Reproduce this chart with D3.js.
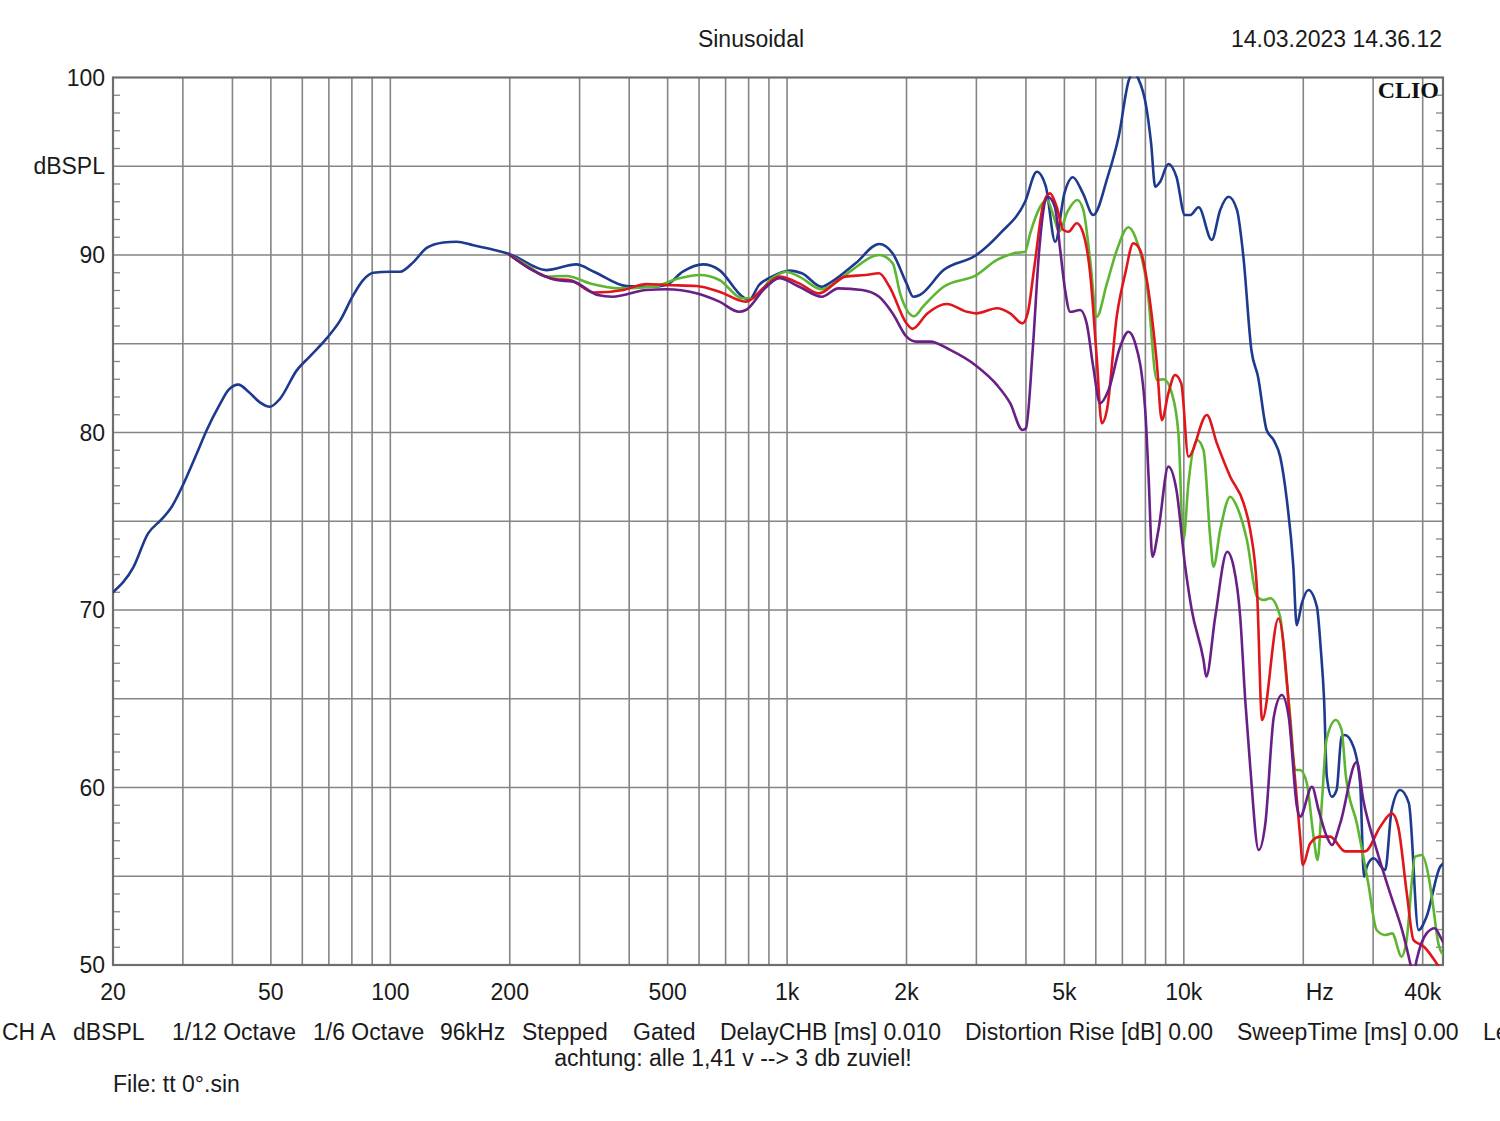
<!DOCTYPE html>
<html><head><meta charset="utf-8">
<script src="https://cdn.jsdelivr.net/npm/d3@7"></script>
<style>
html,body{margin:0;padding:0;background:#fff;}
text{font-family:"Liberation Sans",Arial,sans-serif;fill:#1a1a1a;}
</style></head>
<body>
<svg id="c" width="1500" height="1121"></svg>
<script>
// ---- axis / tick data ----
const xDomain = [20, 45000];
const yDomain = [50, 100];
const xGridFreqs = [30,40,50,60,70,80,90,100,200,300,400,500,600,700,800,900,1000,2000,3000,4000,5000,6000,7000,8000,9000,10000,20000,30000,40000];
const xTickLabels = [[20,"20"],[50,"50"],[100,"100"],[200,"200"],[500,"500"],[1000,"1k"],[2000,"2k"],[5000,"5k"],[10000,"10k"],[22000,"Hz"],[40000,"40k"]];
const yGridLevels = [55,60,65,70,75,80,85,90,95];
const yTickLabels = [[100,"100"],[95,"dBSPL"],[90,"90"],[80,"80"],[70,"70"],[60,"60"],[50,"50"]];

// ---- series data (Hz, dBSPL) ----
const blueFreq = [20,22.5,24.5,26.5,28.1,30.1,32.5,34.4,37.2,39.1,41.4,43.9,46.9,49.7,52.7,58.1,62.8,69.1,74.7,80.7,85.5,90.6,99.8,105.8,114.3,123.5,136.1,147,161.9,181.9,200,
  247,294,326,394,459,496,546,614,675,772,802,850,916,1018,1090,1223,1297,1488,1706,1846,2000,2080,2160,2480,3000,3444,3980,4260,4490,4740,5000,5250,5570,5910,6430,6850,7270,7480,7670,8040,8270,8470,8716,9140,9580,10060,10370,10900,11760,12350,12970,13610,14130,14800,15380,16170,16830,17490,18180,18880,19250,19830,20600,21640,22150,22570,22930,23600,24270,24980,25460,26760,27820,28460,28920,30080,32170,33400,35100,36920,39040,40900,44280,45000];
const blueDb = [71.0,72.4,74.3,75.1,75.8,77.1,78.8,80.1,81.6,82.4,82.7,82.3,81.7,81.45,81.9,83.5,84.3,85.3,86.3,87.75,88.6,89.0,89.06,89.06,89.6,90.4,90.7,90.75,90.55,90.3,90.05,
  89.15,89.47,89.06,88.25,88.21,88.31,89.06,89.47,89.15,87.65,87.46,88.31,88.78,89.12,88.97,88.21,88.5,89.53,90.62,90.09,88.4,87.65,87.75,89.15,90.0,91.22,93.0,94.69,93.85,90.75,93.47,94.38,93.47,92.25,94.41,96.66,99.86,100.3,99.95,98.36,96.29,93.85,94.13,95.13,94.41,92.25,92.25,92.69,90.85,92.54,93.28,92.54,89.9,84.65,83.14,80.14,79.58,78.64,76.2,72.44,69.15,70.38,71.13,70.19,67.75,64.93,60.61,59.48,59.86,62.86,62.96,62.3,60.24,54.98,55.54,56.01,55.35,58.73,59.86,59.11,51.97,52.72,55.54,55.7];

const greenFreq = [200,224,247,278,319,380,459,535,602,675,772,817,916,995,1073,1223,1318,1457,1706,1846,1927,2090,2200,2480,3000,3380,3710,3980,4100,4344,4520,4700,4850,5090,5390,5580,5806,6030,6400,6780,7250,7540,8100,8550,8900,9330,9690,9980,10270,10790,11210,11650,11880,12350,13090,13610,14420,15290,15890,16510,17490,18180,18540,19090,19640,20420,21230,21730,22300,22880,24160,24980,25620,27290,29160,30620,32150,33500,35400,36330,38300,39800,41400,42400,43800,44280,45000];
const greenDb = [90.0,89.34,88.78,88.82,88.4,88.12,88.21,88.69,88.87,88.59,87.56,87.56,88.69,89.06,88.78,88.07,88.4,89.15,90.0,89.53,87.84,86.55,87.09,88.21,88.87,89.72,90.09,90.19,91.22,92.72,93.1,92.16,91.31,92.44,93.1,92.54,89.72,86.52,88.4,90.28,91.56,91.03,88.03,82.96,83.0,82.2,79.95,73.94,77.14,79.58,79.01,74.13,72.44,74.51,76.38,75.82,73.94,70.75,70.56,70.66,69.62,65.87,63.99,60.99,60.99,60.24,57.23,55.92,59.3,62.68,63.8,63.24,60.61,57.98,54.6,51.97,51.69,51.78,50.47,51.22,56.1,56.2,54.98,53.48,51.22,50.85,50.6];

const redFreq = [200,224,262,283,326,387,442,496,591,675,787,879,956,1073,1202,1400,1577,1706,1812,2000,2070,2256,2527,2843,3000,3380,3650,3920,4040,4200,4430,4600,4780,4970,5120,5370,5540,5806,6030,6210,6400,6780,7120,7460,7760,8140,8550,8800,9140,9500,9850,10270,11430,12110,13090,14150,14700,15290,15750,17320,18880,19640,19950,20820,22060,23380,25500,28630,31240,33450,34700,36480,37930,40300,42800,45000];
const redDb = [90.0,89.25,88.63,88.59,87.88,88.03,88.37,88.31,88.25,87.93,87.37,88.21,88.78,88.4,87.84,88.78,88.87,88.97,88.21,86.15,85.84,86.71,87.24,86.8,86.71,87.0,86.71,86.15,86.71,89.34,92.91,93.47,92.72,91.41,91.31,91.79,91.41,88.97,84.27,80.52,81.27,86.59,88.97,90.66,90.28,88.03,83.9,80.7,82.2,83.24,82.77,78.64,80.99,79.4,77.51,76.01,74.51,71.13,63.8,69.52,61.55,57.23,55.63,56.85,57.23,57.23,56.4,56.4,57.78,58.54,57.78,54.03,51.4,51.03,50.28,49.5];

const purpleFreq = [200,228,262,289,333,363,442,496,591,675,757,787,879,956,1073,1223,1347,1546,1706,1846,2000,2114,2294,2576,3000,3380,3650,3920,4000,4160,4320,4540,4730,4880,5020,5170,5480,5690,5910,6150,6460,6910,7250,7540,7990,8150,8330,8630,9140,9580,10080,10470,11210,11390,12000,12860,13350,13870,14280,14700,15440,16050,16860,17660,18380,19280,19640,21030,21860,22930,23610,24780,27280,28330,30620,33120,35680,37200,37850,38610,40910,42900,44280,45000];
const purpleDb = [90.0,89.15,88.59,88.5,87.75,87.65,88.03,88.07,87.84,87.37,86.8,86.9,88.12,88.69,88.21,87.65,88.12,88.03,87.65,86.71,85.4,85.12,85.12,84.65,83.75,82.68,81.65,80.14,80.24,84.65,90.28,93.28,92.72,90.28,88.03,86.8,86.9,86.15,83.71,81.65,82.39,84.83,85.68,85.03,81.3,77.5,73.0,74.51,78.08,76.76,72.44,70.0,67.18,66.24,69.62,73.28,72.44,69.62,64.93,61.17,56.48,57.98,63.99,65.21,63.99,58.92,58.36,60.04,58.73,57.23,56.76,57.98,61.45,59.3,56.48,54.03,51.78,50.1,49.3,50.28,51.78,52.07,51.6,51.3];

const seriesColors = {blue:"#1d3a8f", green:"#5db632", red:"#e0161c", purple:"#6a1f86"};

// ---- drawing ----
const svg = d3.select("#c");
const L = 113, R = 1443, T = 77.5, B = 965;
const x = d3.scaleLog().domain(xDomain).range([L, R]);
const y = d3.scaleLinear().domain(yDomain).range([B, T]);
const gridColor = "#858585";

const g = svg.append("g");
// vertical grid
g.selectAll("line.vg").data(xGridFreqs).join("line")
  .attr("x1", d => x(d)).attr("x2", d => x(d)).attr("y1", T).attr("y2", B)
  .attr("stroke", gridColor).attr("stroke-width", 1.6);
// horizontal grid
g.selectAll("line.hg").data(yGridLevels).join("line")
  .attr("x1", L).attr("x2", R).attr("y1", d => y(d)).attr("y2", d => y(d))
  .attr("stroke", gridColor).attr("stroke-width", 1.6);
// minor ticks each dB
const minor = d3.range(51, 100).filter(v => v % 5 !== 0);
g.selectAll("line.ml").data(minor).join("line")
  .attr("x1", L).attr("x2", L + 7).attr("y1", d => y(d)).attr("y2", d => y(d))
  .attr("stroke", gridColor).attr("stroke-width", 1.3);
g.selectAll("line.mr").data(minor).join("line")
  .attr("x1", R - 7).attr("x2", R).attr("y1", d => y(d)).attr("y2", d => y(d))
  .attr("stroke", gridColor).attr("stroke-width", 1.3);
// frame
g.append("rect").attr("x", L).attr("y", T).attr("width", R - L).attr("height", B - T)
  .attr("fill", "none").attr("stroke", "#6e6e6e").attr("stroke-width", 2.2);

// clip
svg.append("clipPath").attr("id", "clip").append("rect")
  .attr("x", L).attr("y", T - 1).attr("width", R - L).attr("height", B - T + 2);

const line = d3.line().x(d => x(d[0])).y(d => y(d[1])).curve(d3.curveMonotoneX);
const series = [
  ["blue", blueFreq, blueDb],
  ["green", greenFreq, greenDb],
  ["red", redFreq, redDb],
  ["purple", purpleFreq, purpleDb]
];
const curves = svg.append("g").attr("clip-path", "url(#clip)");
series.forEach(([name, f, v]) => {
  curves.append("path").datum(f.map((fr, i) => [fr, v[i]]))
    .attr("d", line).attr("fill", "none")
    .attr("stroke", seriesColors[name]).attr("stroke-width", 2.6)
    .attr("stroke-linejoin", "round").attr("stroke-linecap", "round");
});

// y labels
svg.selectAll("text.yl").data(yTickLabels).join("text")
  .attr("x", 105).attr("y", d => y(d[0]) + 8).attr("text-anchor", "end")
  .attr("font-size", 23).text(d => d[1]);
// x labels
svg.selectAll("text.xl").data(xTickLabels).join("text")
  .attr("x", d => x(d[0])).attr("y", 1000).attr("text-anchor", "middle")
  .attr("font-size", 23).text(d => d[1]);

// header
svg.append("text").attr("x", 751).attr("y", 47).attr("text-anchor", "middle").attr("font-size", 23).text("Sinusoidal");
svg.append("text").attr("x", 1442).attr("y", 47).attr("text-anchor", "end").attr("font-size", 23).text("14.03.2023 14.36.12");
svg.append("text").attr("x", 1439).attr("y", 97.5).attr("text-anchor", "end")
  .attr("font-size", 24).attr("font-weight", "bold")
  .style("font-family", "'Liberation Serif','DejaVu Serif',serif").style("fill", "#111").text("CLIO");

// footer info row
const infoItems = [[2,"CH A"],[73,"dBSPL"],[172,"1/12 Octave"],[313,"1/6 Octave"],[440,"96kHz"],[522,"Stepped"],[633,"Gated"],[720,"DelayCHB [ms] 0.010"],[965,"Distortion Rise [dB] 0.00"],[1237,"SweepTime [ms] 0.00"],[1483,"Le"]];
svg.selectAll("text.info").data(infoItems).join("text")
  .attr("x", d => d[0]).attr("y", 1040).attr("font-size", 23).text(d => d[1]);
svg.append("text").attr("x", 733).attr("y", 1066).attr("text-anchor", "middle").attr("font-size", 23).text("achtung: alle 1,41 v --> 3 db zuviel!");
svg.append("text").attr("x", 113).attr("y", 1092).attr("font-size", 23).text("File: tt 0°.sin");
</script>
</body></html>
